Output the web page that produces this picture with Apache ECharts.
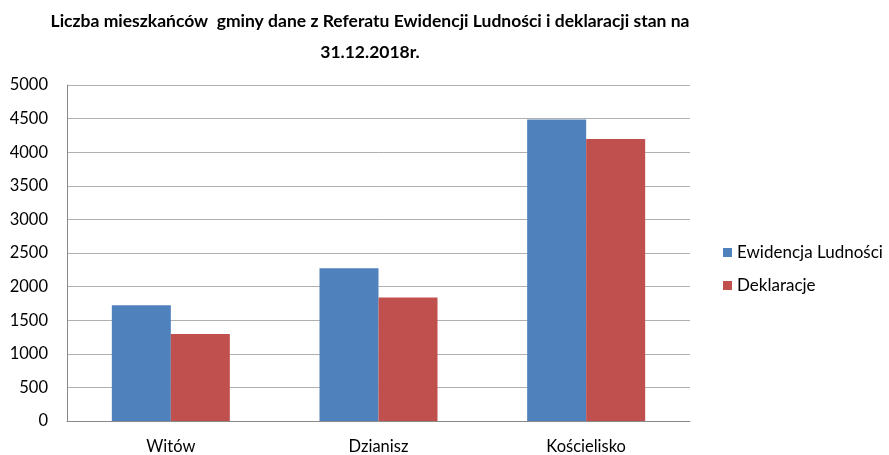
<!DOCTYPE html>
<html>
<head>
<meta charset="utf-8">
<script src="https://cdn.jsdelivr.net/npm/echarts@6/dist/echarts.min.js"></script>
<style>
  html, body { margin: 0; padding: 0; background: #fff; }
  #chart { width: 889px; height: 455px; }
</style>
</head>
<body>
<div id="chart"></div>
<script>
// dane
var categories = ['Witów', 'Dzianisz', 'Kościelisko'];
var ewidencja = [1722, 2273, 4485];
var deklaracje = [1296, 1836, 4195];
var seriesNames = ['Ewidencja Ludności', 'Deklaracje'];

var font = 'Lato, "Open Sans", sans-serif';
var chart = echarts.init(document.getElementById('chart'), null, { renderer: 'canvas' });
chart.setOption({
  animation: false,
  backgroundColor: '#fff',
  title: {
    text: 'Liczba mieszkańców  gminy dane z Referatu Ewidencji Ludności i deklaracji stan na\n31.12.2018r.',
    left: 365,
    top: 1,
    textAlign: 'center',
    textStyle: { fontFamily: font, fontSize: 17.5, fontWeight: 'bold', color: '#000', lineHeight: 31 }
  },
  legend: {
    orient: 'vertical',
    left: 718,
    top: 239,
    itemGap: 16,
    itemWidth: 9,
    itemHeight: 9,
    icon: 'rect',
    textStyle: { fontFamily: font, fontSize: 17, color: '#000' },
    data: seriesNames
  },
  grid: { left: 67, right: 199, top: 85, bottom: 32 },
  xAxis: {
    type: 'category',
    data: categories,
    axisTick: { show: false },
    axisLine: { lineStyle: { color: '#888', width: 1 } },
    axisLabel: { fontFamily: font, fontSize: 16.5, color: '#000', margin: 17 }
  },
  yAxis: {
    type: 'value',
    min: 0,
    max: 5000,
    interval: 500,
    axisLine: { show: true, lineStyle: { color: '#888' } },
    axisTick: { show: false },
    splitLine: { lineStyle: { color: '#b0b0b0' } },
    axisLabel: {
      fontFamily: font, fontSize: 16.5, color: '#000', margin: 19,
      formatter: function(v) { return String(v); }
    }
  },
  series: [
    {
      name: seriesNames[0],
      type: 'bar',
      data: ewidencja,
      barWidth: 59,
      barGap: '0%',
      itemStyle: { color: '#4F81BD' }
    },
    {
      name: seriesNames[1],
      type: 'bar',
      data: deklaracje,
      barWidth: 59,
      itemStyle: { color: '#C0504D' }
    }
  ]
});
window.addEventListener('resize', function() { chart.resize(); });
</script>
</body>
</html>
